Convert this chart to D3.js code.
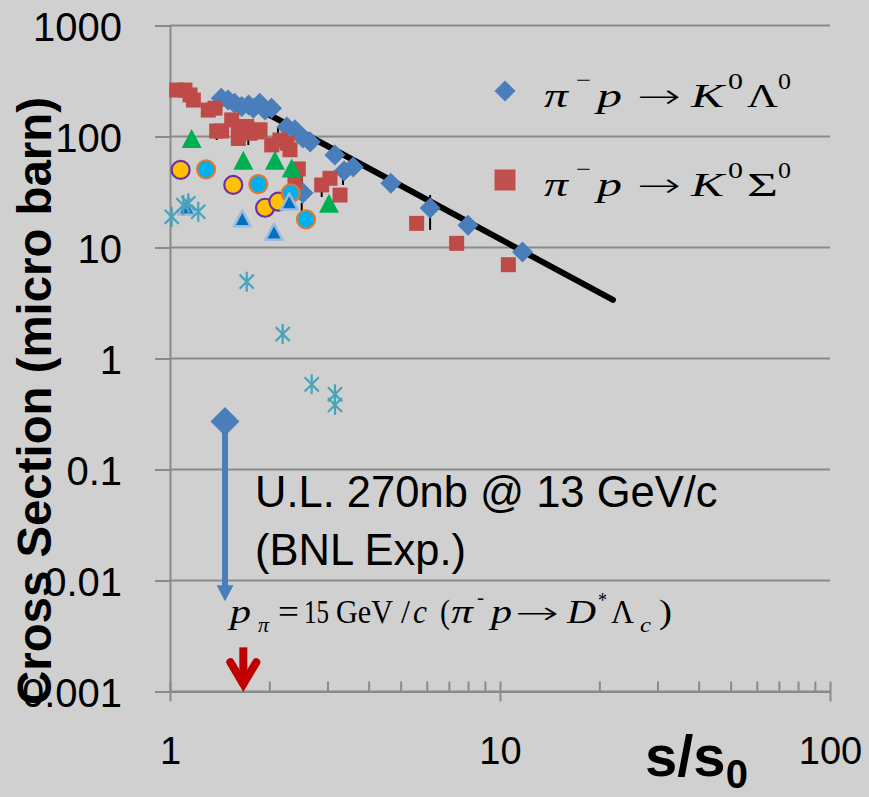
<!DOCTYPE html>
<html>
<head>
<meta charset="utf-8">
<script src="https://cdn.jsdelivr.net/npm/d3@7"></script>
<style>
  html, body { margin: 0; padding: 0; background: #d0d0d0; }
  svg { display: block; }
</style>
</head>
<body>
<svg id="chart" width="869" height="797"></svg>
<script>
// ---- data -------------------------------------------------------------
// π⁻p → K⁰Λ⁰ cross sections (micro barn) vs s/s0
const k0LambdaX = [1.43, 1.50, 1.57, 1.65, 1.73, 1.79, 1.87, 1.94, 2.03, 2.26, 2.39, 2.53, 2.66, 3.16, 3.37, 3.59, 4.67, 6.14, 8.0, 11.7, 2.53];
const k0LambdaY = [221, 213, 199, 186, 192, 180, 199, 173, 180, 122, 115, 97, 89, 68, 49, 53, 38, 22.7, 15.9, 9.1, 31];

// π⁻p → K⁰Σ⁰
const k0SigmaX = [1.048, 1.11, 1.15, 1.177, 1.306, 1.369, 1.385, 1.434, 1.538, 1.611, 1.611, 1.708, 1.747, 1.831, 1.874, 2.033, 2.154, 2.262, 2.31, 2.448, 2.392, 2.882, 3.053, 3.275, 5.59, 7.39, 10.6];
const k0SigmaY = [262, 262, 237, 213, 173, 180, 112, 112, 141, 123, 96, 123, 107, 110, 115, 84, 93, 87, 76, 51, 39, 36.6, 42, 29.7, 16.5, 10.9, 7.0];

// further reactions (no legend entries)
const greenTriX = [1.163, 1.668, 2.08, 2.338, 3.032];
const greenTriY = [96, 61, 61, 52, 25];

const yellowCircX = [1.077, 1.555, 1.941, 2.13];
const yellowCircY = [50, 36.6, 22.8, 25.9];

const cyanCircX = [1.286, 1.852, 2.322, 2.583];
const cyanCircY = [50.6, 37.3, 30.8, 17.9];

const blueTriX = [1.124, 1.656, 2.066, 2.298];
const blueTriY = [23.3, 18.3, 13.9, 25.9];

const starX = [1.012, 1.097, 1.136, 1.218, 1.708, 2.195, 2.688, 3.162, 3.162];
const starY = [18.9, 24.1, 25.0, 21.0, 4.92, 1.66, 0.585, 0.476, 0.381];

// error bars
const errX  = [6.14, 1.385, 1.727, 2.125, 2.507, 2.882, 3.344, 2.507, 3.053];
const errLo = [14.4, 93, 83.8, 93, 35.1, 28.5, 36.6, 20.9, 40.6];
const errHi = [29.7, 110, 107.5, 121.8, 49.9, 36.6, 47.9, 25.2, 47.9];

// power-law fit for K⁰Λ⁰
const fitX = [2.0, 22.0];
const fitY = [157, 3.37];

// upper limit (BNL), 270 nb = 0.27 μb
const ulX = 1.468;
const ulY = 0.27;
const ulArrowEnd = 0.0065;

// p_π = 15 GeV/c marker
const pMarkX = 1.668;
const pMarkTop = 0.0025;
const pMarkTip = 0.00105;

// axes
const yTicks = [0.001, 0.01, 0.1, 1, 10, 100, 1000];
const yTickLabels = ["0.001", "0.01", "0.1", "1", "10", "100", "1000"];
const xTicks = [1, 10, 100];
const xTickLabels = ["1", "10", "100"];
const xMinorTicks = [2, 3, 4, 5, 6, 7, 8, 9, 20, 30, 40, 50, 60, 70, 80, 90];

// ---- drawing ----------------------------------------------------------
const W = 869, H = 797;
const svg = d3.select("#chart");
const SANS = "'Liberation Sans', Arial, sans-serif";
const NARROW = "'Liberation Sans Narrow', 'Arial Narrow', 'Liberation Sans', sans-serif";
const SERIF = "'Liberation Serif', 'Times New Roman', serif";
const ARROWFONT = "'DejaVu Sans', 'Liberation Serif', serif";
const GRID = "#8a8a8a";

svg.append("rect").attr("width", W).attr("height", H).attr("fill", "#d0d0d0");

const x = d3.scaleLog().domain([1, 100]).range([170, 830]);
const y = d3.scaleLog().domain([0.001, 1000]).range([691.5, 25.5]);

const zip = (a, b) => a.map((v, i) => [v, b[i]]);

// horizontal gridlines
svg.append("g").selectAll("line").data(yTicks).join("line")
  .attr("x1", x(1)).attr("x2", x(100))
  .attr("y1", d => y(d)).attr("y2", d => y(d))
  .attr("stroke", GRID).attr("stroke-width", 2);

// y axis
const yAxisG = svg.append("g")
  .attr("transform", `translate(${x(1)},0)`)
  .call(d3.axisLeft(y).tickValues(yTicks)
    .tickFormat((d, i) => yTickLabels[i])
    .tickSizeInner(15).tickSizeOuter(0).tickPadding(33));
yAxisG.attr("font-size", 40).attr("font-family", SANS);
yAxisG.select(".domain").attr("stroke", GRID).attr("stroke-width", 2);
yAxisG.selectAll(".tick line").attr("stroke", GRID).attr("stroke-width", 2);
yAxisG.selectAll(".tick text").attr("fill", "#000").attr("dy", "0.38em");

// x axis: major ticks (crossing) with labels
const xAxisG = svg.append("g")
  .attr("transform", `translate(0,${y(0.001)})`)
  .call(d3.axisBottom(x).tickValues(xTicks)
    .tickFormat((d, i) => xTickLabels[i])
    .tickSizeInner(10).tickSizeOuter(0).tickPadding(36));
xAxisG.attr("font-size", 38).attr("font-family", SANS);
xAxisG.select(".domain").attr("stroke", GRID).attr("stroke-width", 2);
xAxisG.selectAll(".tick line").attr("stroke", GRID).attr("stroke-width", 2);
xAxisG.selectAll(".tick").append("line").attr("y2", -10).attr("stroke", GRID).attr("stroke-width", 2);
xAxisG.selectAll(".tick text").attr("fill", "#000");

// x axis: minor ticks
const xMinorG = svg.append("g")
  .attr("transform", `translate(0,${y(0.001)})`)
  .call(d3.axisBottom(x).tickValues(xMinorTicks).tickFormat("")
    .tickSizeInner(-10).tickSizeOuter(0));
xMinorG.select(".domain").remove();
xMinorG.selectAll(".tick line").attr("stroke", GRID).attr("stroke-width", 2);

// fit line
svg.append("path")
  .datum(zip(fitX, fitY))
  .attr("d", d3.line().x(d => x(d[0])).y(d => y(d[1])))
  .attr("fill", "none").attr("stroke", "#000").attr("stroke-width", 6)
  .attr("stroke-linecap", "round");

// error bars
svg.append("g").selectAll("line").data(errX.map((v, i) => ({ x: v, lo: errLo[i], hi: errHi[i] })))
  .join("line")
  .attr("x1", d => x(d.x)).attr("x2", d => x(d.x))
  .attr("y1", d => y(d.lo)).attr("y2", d => y(d.hi))
  .attr("stroke", "#000").attr("stroke-width", 2);

// marker paths
const diamondPath = h => `M0,${-h}L${h},0L0,${h}L${-h},0Z`;
const triPath = (w, h) => `M0,${-h / 2}L${w / 2},${h / 2}L${-w / 2},${h / 2}Z`;
const starPath = r => {
  const d = r * Math.SQRT1_2;
  return `M0,${-r}L0,${r}M${-d},${-d}L${d},${d}M${-d},${d}L${d},${-d}`;
};

// K⁰Λ⁰ diamonds
svg.append("g").selectAll("path").data(zip(k0LambdaX, k0LambdaY)).join("path")
  .attr("transform", d => `translate(${x(d[0])},${y(d[1])})`)
  .attr("d", diamondPath(10.5)).attr("fill", "#4a7ebb");

// K⁰Σ⁰ squares
svg.append("g").selectAll("rect").data(zip(k0SigmaX, k0SigmaY)).join("rect")
  .attr("x", d => x(d[0]) - 7.5).attr("y", d => y(d[1]) - 7.5)
  .attr("width", 15).attr("height", 15).attr("fill", "#be4b48");

// green triangles
svg.append("g").selectAll("path").data(zip(greenTriX, greenTriY)).join("path")
  .attr("transform", d => `translate(${x(d[0])},${y(d[1])})`)
  .attr("d", triPath(20, 19)).attr("fill", "#00b050");

// yellow circles
svg.append("g").selectAll("circle").data(zip(yellowCircX, yellowCircY)).join("circle")
  .attr("cx", d => x(d[0])).attr("cy", d => y(d[1])).attr("r", 9)
  .attr("fill", "#ffc000").attr("stroke", "#7030a0").attr("stroke-width", 2.2);

// cyan circles
svg.append("g").selectAll("circle").data(zip(cyanCircX, cyanCircY)).join("circle")
  .attr("cx", d => x(d[0])).attr("cy", d => y(d[1])).attr("r", 9)
  .attr("fill", "#00b0f0").attr("stroke", "#e0782e").attr("stroke-width", 2.2);

// blue triangles
svg.append("g").selectAll("path").data(zip(blueTriX, blueTriY)).join("path")
  .attr("transform", d => `translate(${x(d[0])},${y(d[1])})`)
  .attr("d", triPath(17, 16)).attr("fill", "#0070c0")
  .attr("stroke", "#9dbbe0").attr("stroke-width", 2.5).attr("stroke-linejoin", "round");

// asterisks
svg.append("g").selectAll("path").data(zip(starX, starY)).join("path")
  .attr("transform", d => `translate(${x(d[0])},${y(d[1])})`)
  .attr("d", starPath(10)).attr("fill", "none")
  .attr("stroke", "#4aa3ba").attr("stroke-width", 2.2);

// upper-limit diamond with downward arrow
const ulPx = x(ulX), ulPy = y(ulY), ulEndPy = y(ulArrowEnd);
svg.append("line")
  .attr("x1", ulPx).attr("x2", ulPx)
  .attr("y1", ulPy).attr("y2", ulEndPy - 14)
  .attr("stroke", "#4a7ebb").attr("stroke-width", 6);
svg.append("path")
  .attr("d", `M${ulPx - 8.5},${ulEndPy - 16}L${ulPx + 8.5},${ulEndPy - 16}L${ulPx},${ulEndPy}Z`)
  .attr("fill", "#4a7ebb");
svg.append("path")
  .attr("transform", `translate(${ulPx},${ulPy})`)
  .attr("d", diamondPath(14.5)).attr("fill", "#4a7ebb");

// red arrow marking p_π = 15 GeV/c
const pmPx = x(pMarkX), pmTop = y(pMarkTop), pmTip = y(pMarkTip);
svg.append("line")
  .attr("x1", pmPx).attr("x2", pmPx).attr("y1", pmTop).attr("y2", pmTip - 6)
  .attr("stroke", "#c00000").attr("stroke-width", 8);
svg.append("path")
  .attr("d", `M${pmPx - 13},${pmTip - 27}L${pmPx},${pmTip - 5}L${pmPx + 13},${pmTip - 27}`)
  .attr("fill", "none").attr("stroke", "#c00000").attr("stroke-width", 8)
  .attr("stroke-linejoin", "miter").attr("stroke-linecap", "round");

// annotation
const ann = svg.append("text").attr("font-family", SANS).attr("font-size", 43.5).attr("fill", "#000");
ann.append("tspan").attr("x", 255).attr("y", 507).text("U.L. 270nb @ 13 GeV/c");
ann.append("tspan").attr("x", 255).attr("y", 565).text("(BNL Exp.)");

// math text helper: each piece sits at an offset along a baseline and is
// fitted to a given advance width
function mathText(x0, base, size, pieces) {
  const g = svg.append("g").attr("font-family", SERIF).attr("fill", "#000");
  pieces.forEach(p => {
    const t = g.append("text")
      .attr("x", x0 + p.dx)
      .attr("y", base + (p.dy || 0))
      .attr("font-size", p.size || size)
      .attr("font-style", p.it ? "italic" : "normal")
      .text(p.t);
    if (p.font) t.attr("font-family", p.font).attr("font-weight", 300);
    if (p.len) t.attr("textLength", p.len).attr("lengthAdjust", "spacingAndGlyphs");
  });
}

// legend
const legendRows = [
  { sym: "diamond", last: "Λ" },
  { sym: "square", last: "Σ" }
];
legendRows.forEach((row, i) => {
  const cy = 91 + i * 89;
  if (row.sym === "diamond") {
    svg.append("path").attr("transform", `translate(505,${cy})`)
      .attr("d", diamondPath(10.5)).attr("fill", "#4a7ebb");
  } else {
    svg.append("rect").attr("x", 494.5).attr("y", cy - 10.5)
      .attr("width", 21).attr("height", 21).attr("fill", "#c0504d");
  }
  mathText(545, cy + 16, 34, [
    { t: "π", dx: -1, it: true, len: 24 },
    { t: "−", dx: 31, dy: -19, size: 24, len: 15 },
    { t: "p", dx: 52, it: true, len: 25 },
    { t: "→", dx: 92, dy: 1, size: 34, len: 44, font: ARROWFONT },
    { t: "K", dx: 146, it: true, len: 33 },
    { t: "0", dx: 183, dy: -18, size: 24, len: 15 },
    { t: row.last, dx: 202, len: 31 },
    { t: "0", dx: 233, dy: -18, size: 24, len: 13 }
  ]);
});

// threshold formula
mathText(231, 623, 34, [
  { t: "p", dx: -1, it: true, len: 21 },
  { t: "π", dx: 27, dy: 9, size: 22, it: true, len: 11 },
  { t: "=", dx: 47, len: 21 },
  { t: "15", dx: 73, len: 25 },
  { t: "GeV", dx: 105, len: 57 },
  { t: "/", dx: 170, len: 9 },
  { t: "c", dx: 182, it: true, len: 14 },
  { t: "(", dx: 209, len: 10 },
  { t: "π", dx: 220, it: true, len: 22 },
  { t: "-", dx: 246, dy: -19, size: 20, len: 7 },
  { t: "p", dx: 260, it: true, len: 21 },
  { t: "→", dx: 284, dy: 1, size: 32, len: 44, font: ARROWFONT },
  { t: "D", dx: 336, it: true, len: 29 },
  { t: "*", dx: 367, dy: -16, size: 22, len: 9 },
  { t: "Λ", dx: 380, len: 23 },
  { t: "c", dx: 409, dy: 9, size: 22, it: true, len: 11 },
  { t: ")", dx: 428, len: 13 }
]);

// axis titles
svg.append("text")
  .attr("transform", "translate(51,401) rotate(-90)")
  .attr("text-anchor", "middle")
  .attr("font-family", NARROW).attr("font-weight", "bold").attr("font-size", 48)
  .attr("textLength", 608).attr("lengthAdjust", "spacingAndGlyphs")
  .attr("fill", "#000")
  .text("Cross Section (micro barn)");

const xt = svg.append("text")
  .attr("x", 645).attr("y", 776)
  .attr("font-family", NARROW).attr("font-weight", "bold").attr("font-size", 58)
  .attr("fill", "#000");
xt.append("tspan").text("s/s");
xt.append("tspan").attr("font-size", 40).attr("dy", 12).text("0");
</script>
</body>
</html>
